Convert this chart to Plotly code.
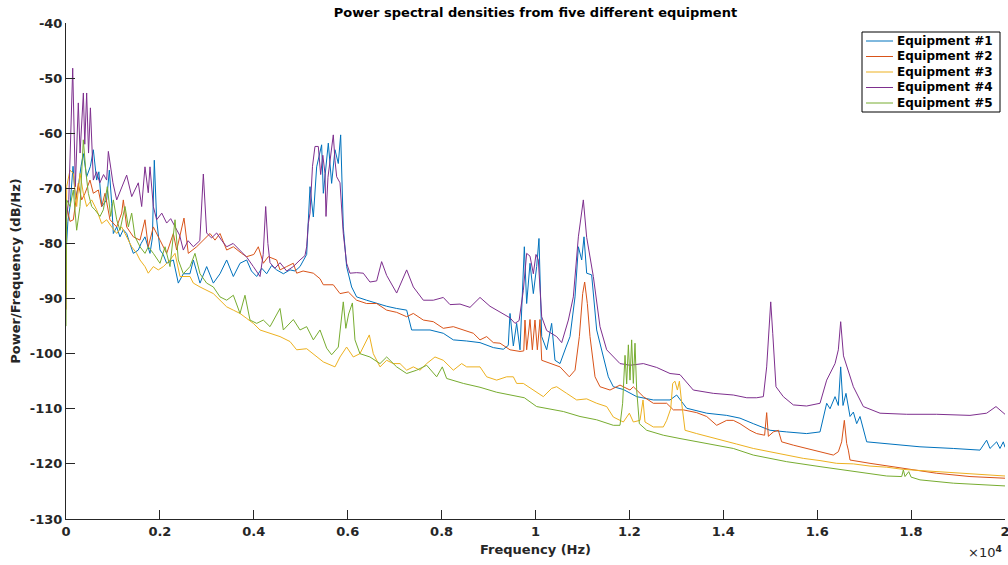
import plotly.graph_objects as go

# ---- data (frequency in Hz, PSD in dB/Hz) ----
series_names = ["Equipment #1", "Equipment #2", "Equipment #3", "Equipment #4", "Equipment #5"]
series_colors = ["#0072BD", "#D95319", "#EDB120", "#7E2F8E", "#77AC30"]

eq1 = [(0,-82),(40,-76),(85,-73.3),(150,-66),(200,-72),(262,-69.7),(320,-66),(370,-63.7),(440,-67.9),(520,-66),
       (582,-63),(653,-68.5),(700,-67),(760,-73.3),(866,-72.1),(923,-66.7),(973,-72.7),(1008,-78.2),(1080,-77),(1150,-78.8),
       (1220,-77.5),(1292,-78.2),(1360,-80),(1434,-81.8),(1540,-81.2),(1600,-80),(1682,-78.8),(1789,-81.8),(1840,-79),(1881,-64.9),
       (1931,-75.7),(2002,-81.2),(2070,-82),(2144,-83.6),(2286,-83),(2392,-87.2),(2499,-85.5),(2641,-85.5),(2712,-83),(2854,-87.2),
       (2996,-84.2),(3138,-87.2),(3280,-85.5),(3422,-83),(3564,-86),(3706,-83.6),(3848,-83),(3950,-85),(4061,-86),(4170,-84.5),
       (4274,-85.5),(4380,-84),(4487,-84.8),(4630,-85.5),(4771,-84.8),(4880,-85),(4984,-84.2),(5126,-82),(5197,-69.7),(5268,-75.2),
       (5339,-66.1),(5445,-62.1),(5481,-70.9),(5587,-61.8),(5658,-69.1),(5729,-63),(5800,-65.5),(5850,-60.3),(5906,-77),(5977,-84.2),
       (6084,-87.9),(6190,-89.7),(6403,-90.3),(6617,-90.9),(6830,-91.4),(7043,-91.8),(7256,-92.1),(7362,-95.7),(7540,-95.7),(7753,-95.7),
       (8036,-96.3),(8250,-97.5),(8534,-97.7),(8818,-98),(9102,-98.9),(9315,-99.2),(9420,-98.5),(9457,-92.7),(9528,-98.6),(9599,-94.5),
       (9670,-99.3),(9762,-80.6),(9812,-90.9),(9883,-83.6),(9954,-89.1),(10025,-84.2),(10074,-79.1),(10132,-96.9),(10238,-99.3),(10344,-94.5),
       (10415,-101.2),(10522,-101.8),(10650,-98.8),(10735,-96.9),(10842,-89.7),(10913,-80.6),(10984,-83),(11033,-78.8),(11090,-85.4),(11196,-85.7),
       (11303,-95.7),(11431,-99.9),(11551,-104.2),(11658,-106),(11871,-106.5),(12155,-107.8),(12510,-108.4),(12865,-108.4),(13007,-107.5),(13220,-109.9),
       (13646,-110.8),(14072,-111.2),(14355,-111.7),(14639,-112.7),(14995,-113.9),(15350,-114.2),(15775,-114.5),(16060,-114.2),(16202,-109),(16273,-110),
       (16380,-107.8),(16450,-109.4),(16500,-102.4),(16550,-109.4),(16613,-107.2),(16699,-111.4),(16770,-110.6),(16841,-112.7),(16912,-111.4),(17054,-116),
       (17480,-116.3),(18189,-116.9),(18899,-117.2),(19467,-117.5),(19609,-115.7),(19680,-117.2),(19822,-116),(19893,-117.2),(19964,-116),(20000,-117)]

eq2 = [(0,-92),(14,-73.3),(85,-76),(156,-75.7),(262,-69.1),(334,-72.1),(405,-70.9),(511,-68.5),(582,-70.9),(689,-70.3),
       (760,-73.3),(831,-70.9),(937,-75.7),(1080,-77),(1186,-74.5),(1221,-72.1),(1292,-77),(1434,-78.8),(1576,-79.4),(1682,-75.7),
       (1752,-80.6),(1860,-77),(2002,-79.4),(2144,-81.8),(2286,-78.2),(2357,-81.2),(2513,-75.4),(2605,-81.8),(2783,-80.6),(2925,-79.4),
       (3067,-78.2),(3173,-79.4),(3280,-78.2),(3422,-81.2),(3564,-80.6),(3741,-81.8),(3848,-82.4),(4000,-82),(4096,-80.6),(4203,-83.6),
       (4309,-82.4),(4487,-83),(4558,-84.8),(4700,-84.2),(4841,-83.6),(4913,-85.4),(5050,-85),(5268,-85.4),(5410,-86.4),(5481,-87.5),
       (5693,-87.5),(5836,-89.1),(6013,-88.8),(6190,-90.3),(6403,-90.9),(6617,-90.9),(6830,-92.1),(7043,-92.5),(7256,-93.3),(7398,-92.7),
       (7611,-93.9),(7824,-94.2),(8036,-95.4),(8250,-95.1),(8463,-95.7),(8676,-96.3),(8818,-97.5),(8960,-96.9),(9102,-98),(9244,-98.1),
       (9457,-99.3),(9670,-99.6),(9750,-99.5),(9776,-93.9),(9812,-99.3),(9883,-93.8),(9933,-99.3),(9989,-93.9),(10039,-99.3),(10096,-93.8),
       (10132,-101.2),(10309,-101.8),(10522,-102.4),(10720,-104.2),(10842,-103),(10934,-96.9),(11005,-89.1),(11047,-87),(11104,-90.9),(11161,-96.9),
       (11268,-104.2),(11374,-106),(11587,-106.6),(11800,-105.7),(12013,-106.6),(12084,-106),(12297,-107.8),(12510,-109),(12794,-109),(12936,-110.2),
       (13149,-110.2),(13433,-110.7),(13646,-111.4),(13859,-113),(14072,-112.1),(14213,-112.1),(14355,-112.7),(14568,-113.9),(14711,-114.5),(14880,-114.8),
       (14924,-110.7),(14960,-115),(15066,-114.2),(15172,-113.9),(15243,-116),(15491,-116.6),(15775,-117.2),(16060,-117.8),(16344,-118.4),(16450,-117.8),
       (16521,-116),(16578,-112.1),(16628,-116.3),(16663,-117.5),(16699,-119.3),(17125,-119.9),(17835,-120.8),(18545,-121.7),(19254,-122.3),(19964,-122.6),
       (20000,-122.6)]

eq3 = [(0,-90),(14,-69.7),(85,-66.7),(156,-67.3),(227,-73.3),(298,-67.3),(369,-70.9),(440,-73.3),(547,-72.1),(653,-73.9),
       (760,-76.4),(866,-75.7),(973,-77),(1080,-78.2),(1186,-77),(1292,-78.8),(1399,-80.6),(1505,-81.8),(1576,-83),(1682,-84.2),
       (1752,-85.4),(1860,-84.2),(1966,-84.8),(2073,-84.2),(2215,-83),(2322,-81.8),(2428,-86),(2641,-86),(2712,-87.2),(2854,-87.9),
       (2996,-88.5),(3138,-89.1),(3280,-90.3),(3422,-91.5),(3564,-92.1),(3706,-92.7),(3848,-93.6),(3990,-94.5),(4132,-95.7),(4345,-96.3),
       (4558,-96.9),(4771,-97.8),(4913,-99.3),(5126,-99.1),(5268,-100),(5481,-101.5),(5729,-102.4),(5836,-100.6),(5977,-98.8),(6119,-100.6),
       (6261,-100),(6403,-97.5),(6460,-96.6),(6545,-100),(6688,-102.4),(6830,-101.2),(6972,-101.8),(7114,-101.8),(7256,-103),(7398,-102.4),
       (7540,-103),(7682,-101.8),(7859,-100.6),(8036,-101.2),(8250,-103),(8427,-101.8),(8534,-102.4),(8818,-102.4),(8960,-104.2),(9173,-104.8),
       (9386,-104.2),(9528,-104.2),(9599,-105.4),(9741,-105.4),(9954,-106.6),(10167,-107.8),(10344,-106.3),(10451,-106),(10664,-107.2),(10877,-108.4),
       (11090,-108.2),(11303,-109),(11516,-109.6),(11658,-111.5),(11871,-112.4),(11999,-110.8),(12084,-112.4),(12226,-112.1),(12290,-108.4),(12332,-112.4),
       (12510,-113.3),(12723,-113.3),(12794,-112.1),(12880,-110),(12922,-105.4),(12971,-105),(13022,-106.6),(13065,-105),(13114,-109),(13185,-113.9),
       (13433,-114.5),(13717,-115.1),(14000,-115.7),(14284,-116.4),(14639,-117.2),(14995,-117.8),(15350,-118.4),(15705,-119),(16060,-119.4),(16415,-119.9),
       (16770,-120),(17125,-120.4),(17480,-120.6),(17835,-121),(18189,-121.2),(18545,-121.4),(18899,-121.6),(19254,-121.9),(19609,-122),(19964,-122.2),
       (20000,-122.2)]

eq4 = [(0,-76),(60,-72),(143,-48.2),(200,-69.7),(262,-54.5),(300,-63.6),(370,-52.7),(400,-62),(440,-52.7),(480,-63.6),
       (520,-55.4),(582,-68.5),(650,-67),(720,-69),(800,-67.5),(866,-68.5),(902,-63.3),(1000,-69),(1080,-72.1),(1180,-70),
       (1292,-67.6),(1400,-71.5),(1540,-69),(1612,-73.3),(1682,-66.1),(1752,-70.8),(1789,-66.1),(1860,-73.3),(1931,-75.7),(2040,-74.5),
       (2144,-76.3),(2230,-75.5),(2322,-77),(2420,-78.5),(2499,-81.2),(2600,-79.5),(2712,-80.6),(2850,-79.5),(2925,-67.4),(2996,-78.1),
       (3100,-79),(3209,-78.1),(3320,-79.5),(3422,-80.6),(3560,-80),(3706,-81.2),(3850,-82.5),(3990,-84.2),(4132,-86),(4200,-82),
       (4253,-73.3),(4300,-80),(4345,-83.5),(4450,-84.5),(4558,-83.5),(4700,-85),(4841,-84.2),(4984,-83),(5090,-82.2),(5126,-80.6),
       (5161,-76.4),(5197,-74.5),(5250,-66),(5303,-62.4),(5374,-62.4),(5424,-67.5),(5470,-64),(5516,-67.3),(5538,-75.1),(5580,-68),
       (5623,-64.9),(5693,-60.3),(5730,-65),(5765,-67.9),(5836,-69),(5906,-78.2),(5977,-83.6),(6048,-85.4),(6190,-85.3),(6332,-85.4),
       (6474,-87),(6617,-86.8),(6723,-83.3),(6830,-85.8),(7043,-89),(7256,-84.8),(7398,-87.9),(7611,-90.3),(7824,-90.3),(8036,-89.8),
       (8179,-91.1),(8392,-91),(8605,-91.6),(8818,-89.8),(9031,-91.4),(9244,-92.5),(9457,-93.5),(9563,-94.5),(9650,-94),(9741,-88.5),
       (9812,-81.8),(9883,-82.3),(9954,-85.5),(10010,-82),(10060,-83),(10132,-93.3),(10238,-95.8),(10451,-96.9),(10558,-98),(10700,-93.9),
       (10806,-89.7),(10913,-78.8),(11019,-72.1),(11090,-78.9),(11232,-86),(11374,-95.1),(11516,-99.3),(11800,-101.8),(12013,-102.1),(12297,-101.8),
       (12581,-102.5),(12865,-103.6),(13078,-103.8),(13361,-106.6),(13787,-107.2),(14213,-107.5),(14500,-108),(14711,-108),(14853,-107.8),(14924,-102.4),
       (14980,-93.3),(15010,-90.6),(15053,-96.3),(15122,-106),(15278,-107.8),(15491,-109.3),(15775,-109.5),(16060,-109),(16202,-104.8),(16380,-101.8),
       (16450,-99.3),(16500,-94.2),(16560,-100.4),(16663,-103),(16770,-106),(16983,-109.6),(17338,-110.8),(17906,-111),(18545,-111),(19254,-111.2),
       (19609,-110.8),(19808,-109.6),(19957,-110.8),(20000,-111)]

eq5 = [(0,-95),(14,-72.1),(85,-73.3),(156,-70.3),(227,-77.6),(298,-73.3),(369,-61.2),(426,-67.3),(476,-70.9),(547,-73.3),
       (618,-73.9),(724,-75.1),(795,-73.9),(880,-69.7),(951,-75.1),(1008,-72.1),(1080,-75.7),(1150,-77.6),(1257,-73.3),(1328,-77),
       (1399,-74.5),(1470,-78.8),(1576,-80.6),(1682,-81.8),(1752,-80.6),(1860,-81.8),(2002,-83.6),(2109,-80.6),(2215,-84.2),(2322,-75.7),
       (2392,-83),(2499,-85.5),(2641,-84.2),(2747,-81.8),(2854,-85.5),(2996,-87.2),(3138,-87.9),(3280,-89.7),(3422,-90.3),(3564,-89.4),
       (3706,-92.7),(3812,-89.4),(3919,-93.9),(4061,-94.5),(4203,-93.9),(4345,-95.1),(4558,-91.8),(4629,-95.7),(4842,-93.8),(4984,-95.7),
       (5126,-95.1),(5268,-97.5),(5410,-95.7),(5552,-99),(5658,-100.2),(5800,-98.8),(5906,-90.6),(5960,-95.4),(6020,-92.8),(6100,-90.8),
       (6155,-97.5),(6261,-100),(6474,-100.6),(6688,-101.8),(6830,-100.6),(7043,-102.4),(7256,-103.6),(7469,-103),(7682,-102.1),(7895,-104.2),
       (8015,-102.4),(8108,-104.5),(8463,-105.4),(8818,-106.1),(9173,-107),(9528,-107.6),(9762,-108),(10025,-109.6),(10380,-110.2),(10593,-110.5),
       (10948,-111.4),(11303,-112),(11658,-113),(11800,-113),(11856,-109),(11907,-100.3),(11942,-105.5),(11978,-98.4),(12013,-104.8),(12048,-97.5),
       (12084,-105.4),(12119,-98.1),(12155,-106.6),(12212,-112.7),(12368,-113.9),(12723,-114.8),(13078,-115.4),(13433,-116),(13788,-116.6),(14213,-117.2),
       (14639,-118.4),(15350,-119.6),(16060,-120.5),(16770,-121.4),(17480,-122.2),(17800,-122.3),(17835,-121.1),(17870,-122.3),(17950,-121.4),(18000,-122.4),
       (18189,-122.9),(18899,-123.5),(19964,-124),(20000,-124)]

x_tick_vals = [0, 2000, 4000, 6000, 8000, 10000, 12000, 14000, 16000, 18000, 20000]
x_tick_text = ["0", "0.2", "0.4", "0.6", "0.8", "1", "1.2", "1.4", "1.6", "1.8", "2"]
y_tick_vals = [-130, -120, -110, -100, -90, -80, -70, -60, -50, -40]
y_tick_text = ["-130", "-120", "-110", "-100", "-90", "-80", "-70", "-60", "-50", "-40"]

FONT = "DejaVu Sans"
DARK = "#262626"

# plot-area geometry in pixels (for placing the hand-drawn legend box)
W, H = 1008, 565
ML, MR, MT, MB = 66, 3, 23, 46
PW, PH = W - ML - MR, H - MT - MB

def px_x(px):
    return (px - ML) / PW

def px_y(py):
    return 1 - (py - MT) / PH

fig = go.Figure()
for name, color, data in zip(series_names, series_colors, [eq1, eq2, eq3, eq4, eq5]):
    fig.add_trace(go.Scatter(
        x=[p[0] for p in data], y=[p[1] for p in data],
        mode="lines", name=name, showlegend=False,
        line=dict(color=color, width=1),
    ))

fig.update_layout(
    width=W, height=H,
    margin=dict(l=ML, r=MR, t=MT, b=MB),
    paper_bgcolor="white", plot_bgcolor="white",
    font=dict(family=FONT, color=DARK, size=13),
    title=dict(text="<b>Power spectral densities from five different equipment</b>",
               x=0.5, xref="paper", xanchor="center", y=1 - 12 / H, yanchor="middle",
               font=dict(family=FONT, size=13, color="black")),
    showlegend=False,
)

fig.update_xaxes(
    range=[0, 20000], tickvals=x_tick_vals, ticktext=x_tick_text,
    ticks="inside", ticklen=9, tickwidth=1, tickcolor=DARK,
    showline=True, linecolor=DARK, linewidth=1, mirror=False,
    showgrid=False, zeroline=False, automargin=False, ticklabeloverflow="allow",
    tickfont=dict(family=FONT, size=13, color=DARK, weight="bold"),
    title=dict(text="<b>Frequency (Hz)</b>", standoff=7, font=dict(family=FONT, size=13, color=DARK)),
)
fig.update_yaxes(
    range=[-130, -40], tickvals=y_tick_vals, ticktext=y_tick_text,
    ticks="inside", ticklen=9, tickwidth=1, tickcolor=DARK,
    showline=True, linecolor=DARK, linewidth=1, mirror=False,
    showgrid=False, zeroline=False, automargin=False, ticklabeloverflow="allow",
    tickfont=dict(family=FONT, size=13, color=DARK, weight="bold"),
    title=dict(text="<b>Power/Frequency (dB/Hz)</b>", standoff=6, font=dict(family=FONT, size=13, color=DARK)),
)

# x10^4 exponent label
fig.add_annotation(text="×10<sup><b>4</b></sup>", xref="paper", yref="paper",
                   x=px_x(1004), y=px_y(552), xanchor="right", yanchor="middle", showarrow=False,
                   font=dict(family=FONT, size=13, color=DARK))

# legend drawn as a box with line samples and labels (MATLAB-style compact spacing)
fig.add_shape(type="rect", xref="paper", yref="paper",
              x0=px_x(862), x1=px_x(1000), y0=px_y(112), y1=px_y(32),
              line=dict(color="black", width=1), fillcolor="white", layer="above")
row_y = [41, 56.5, 72, 87.5, 103]
for name, color, ry in zip(series_names, series_colors, row_y):
    fig.add_shape(type="line", xref="paper", yref="paper",
                  x0=px_x(866), x1=px_x(893), y0=px_y(ry), y1=px_y(ry),
                  line=dict(color=color, width=1), layer="above")
    fig.add_annotation(text="<b>" + name + "</b>", xref="paper", yref="paper",
                       x=px_x(895), y=px_y(ry), xanchor="left", yanchor="middle", showarrow=False,
                       font=dict(family=FONT, size=12, color="black"))

# remove the browser's default 8px page margin so the figure sits at the window origin
fig.write_html("out.html", config={"displayModeBar": False},
               post_script="document.body.style.margin='0';document.body.style.overflow='hidden';")
